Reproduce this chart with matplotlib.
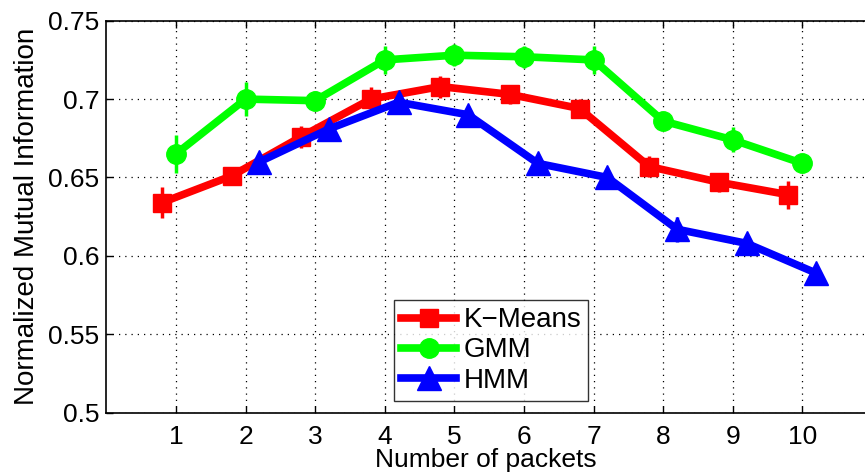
import matplotlib
matplotlib.use("Agg")
import matplotlib.pyplot as plt
import numpy as np

packets = [1, 2, 3, 4, 5, 6, 7, 8, 9, 10]
kmeans = [0.634, 0.651, 0.676, 0.700, 0.708, 0.703, 0.694, 0.657, 0.647, 0.639]
kmeans_err = [0.010, 0.006, 0.007, 0.008, 0.007, 0.006, 0.006, 0.007, 0.006, 0.009]
gmm = [0.665, 0.700, 0.699, 0.725, 0.728, 0.727, 0.725, 0.686, 0.674, 0.659]
gmm_err = [0.012, 0.011, 0.006, 0.009, 0.007, 0.007, 0.009, 0.006, 0.008, 0.004]
hmm = [0.660, 0.681, 0.698, 0.690, 0.659, 0.650, 0.617, 0.608, 0.589]
hmm_packets = [2, 3, 4, 5, 6, 7, 8, 9, 10]
hmm_err = [0.004, 0.005, 0.004, 0.004, 0.004, 0.005, 0.008, 0.004, 0.004]
labels = ["K\u2212Means", "GMM", "HMM"]
yticks = [0.5, 0.55, 0.6, 0.65, 0.7, 0.75]
ytick_labels = ["0.5", "0.55", "0.6", "0.65", "0.7", "0.75"]

plt.rcParams['font.family'] = ['Liberation Sans', 'DejaVu Sans']

fig = plt.figure(figsize=(8.65, 4.75), dpi=100)
ax = fig.add_axes([106.3 / 865, 1 - 412.7 / 475, 1 - 106.3 / 865, (412.7 - 20.7) / 475])

series = [
    (np.array(packets) - 0.2, kmeans, kmeans_err, '#ff0000', 's', 13, labels[0]),
    (np.array(packets), gmm, gmm_err, '#00ff00', 'o', 14, labels[1]),
    (np.array(hmm_packets) + 0.2, hmm, hmm_err, '#0000ff', '^', 17, labels[2]),
]
for x, y, e, c, m, ms, lab in series:
    ax.errorbar(x, y, yerr=e, fmt='none', ecolor=c, elinewidth=2.5, capsize=0, zorder=3)
    ax.plot(x, y, color=c, lw=5.5, marker=m, markersize=ms, label=lab, zorder=3)

ax.set_xlim(0, 10.9)
ax.set_ylim(0.5, 0.75)
ax.set_xticks(packets)
ax.set_xticklabels([str(p) for p in packets])
ax.set_yticks(yticks)
ax.set_yticklabels(ytick_labels)
ax.tick_params(direction='in', length=5, width=1, labelsize=19, top=True, right=False)
ax.tick_params(axis='x', pad=9)
ax.tick_params(axis='y', pad=5)
ax.grid(True, linestyle=(0, (1, 4)), color='black', linewidth=0.9)
ax.spines['right'].set_visible(False)
for s in ['left', 'top', 'bottom']:
    ax.spines[s].set_linewidth(1.2)

ax.set_xlabel("Number of packets", fontsize=19, labelpad=-1)
ax.set_ylabel("Normalized Mutual Information", fontsize=20, labelpad=6)

leg = ax.legend(loc='lower left', bbox_to_anchor=(0.379, 0.031), borderaxespad=0,
                fontsize=20, frameon=True, fancybox=False, edgecolor='black',
                handlelength=2.0, handletextpad=0.25, labelspacing=0.15, borderpad=0.25)
leg.get_frame().set_linewidth(1.0)

fig.savefig("out.png", dpi=100)
